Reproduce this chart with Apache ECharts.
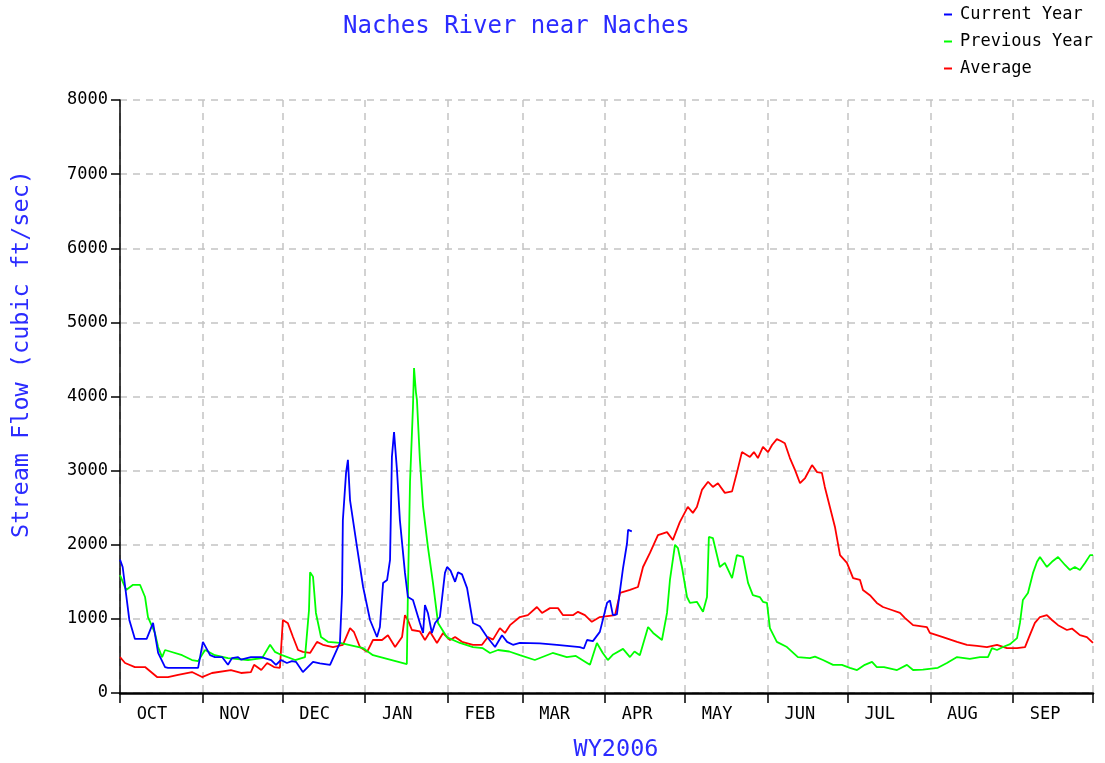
<!DOCTYPE html>
<html>
<head>
<meta charset="utf-8">
<script src="https://cdn.jsdelivr.net/npm/echarts@6/dist/echarts.min.js"></script>
<style>
  html, body { margin: 0; padding: 0; background: #fff; }
  #chart { width: 1105px; height: 763px; }
</style>
</head>
<body>
<div id="chart"></div>
<script>
// water year days: 0 = Oct 1, 365 = end of Sep 30
var monthNames = ['OCT','NOV','DEC','JAN','FEB','MAR','APR','MAY','JUN','JUL','AUG','SEP'];
var monthStarts = [0,31,61,92,123,151,182,212,243,273,304,335,365];
var flowTicks = [0,1000,2000,3000,4000,5000,6000,7000,8000];

// [day, cubic ft/sec]
var currentYear = [
  [0,1800],[1,1700],[3.5,985],[5.6,730],[10,730],[12.4,945],[14.3,540],[16.9,350],[18,340],
  [29.3,340],[31.1,690],[33.8,510],[35.6,485],[38.3,485],[40.5,380],[42,470],[44.3,485],
  [45.4,450],[49.1,485],[53,485],[56.7,445],[58.5,380],[60.4,445],[62.6,405],[64.5,430],
  [66,420],[68.6,283],[72.4,420],[75,400],[78.8,380],[82.5,675],[83.3,1350],[83.6,2330],
  [84.8,2970],[85.5,3145],[86.3,2600],[88.9,1970],[91.2,1430],[93.8,985],[96.4,755],
  [97.5,890],[98.7,1485],[100.2,1525],[101.3,1795],[102,3185],[102.8,3520],[103.9,3010],
  [105,2330],[106.9,1620],[108,1295],[109.9,1255],[112.5,945],[113.7,810],[114.4,1185],
  [115.5,1080],[117,810],[118.2,945],[120,1025],[121.9,1620],[122.7,1700],[124,1650],
  [125.7,1500],[126.8,1630],[128.3,1600],[130.2,1415],[132.4,945],[135,900],[137.7,755],
  [140.7,620],[143.3,780],[145.2,690],[147.4,650],[150,675],[157.5,670],[163.9,650],
  [172.5,620],[174,600],[175.2,715],[177.4,700],[180,825],[182.7,1215],[183.8,1250],
  [184.9,1050],[186.4,1060],[187.6,1390],[188.7,1685],[190.2,2020],[190.6,2200],[192,2180]
];

var previousYear = [
  [0,1590],[2.3,1390],[4.9,1460],[7.5,1460],[9.4,1295],[10.5,1025],[13.1,810],[14.3,620],
  [15.8,485],[16.9,580],[18.8,560],[23.3,510],[27,445],[29.3,430],[31.9,580],[33,560],
  [35.6,510],[40.5,470],[48,445],[53.3,470],[56.3,650],[58.1,555],[60.8,510],[65.7,445],
  [69.4,485],[70.9,1120],[71.3,1630],[72.4,1570],[73.5,1080],[75.4,755],[78,690],
  [82.5,675],[91.2,605],[94.9,510],[107.6,390],[108,1350],[108.8,2850],[109.9,3860],
  [110.3,4385],[111,4060],[111.4,3950],[112.5,3145],[113.7,2510],[115.5,1970],[117.4,1485],
  [119.3,945],[122.7,750],[127.5,675],[132.4,620],[136.1,605],[138.8,540],[141.8,580],
  [146,560],[150,510],[155.6,445],[162.3,540],[167.6,485],[171,500],[175.2,405],[176.3,380],
  [178.9,675],[181.1,540],[183,445],[185,520],[188.7,595],[191.3,485],[193,560],[195,510],
  [198.1,890],[200,810],[203.3,715],[205.2,1080],[206.3,1525],[208.2,2000],[209.3,1955],
  [210.8,1700],[212.7,1295],[213.8,1215],[216.4,1230],[218.7,1095],[220.2,1295],[220.9,2105],
  [222.4,2090],[225,1700],[226.9,1755],[229.6,1550],[231.4,1860],[233.7,1835],[235.6,1485],
  [237.4,1320],[240,1295],[241.2,1230],[242.7,1215],[243.8,875],[246.4,690],[250.2,620],
  [254.3,485],[258.8,470],[260.7,490],[263.7,445],[267.5,380],[270.8,380],[273.8,340],
  [276.5,310],[279.4,380],[282.1,420],[283.9,350],[286.6,350],[291.5,310],[295.2,380],
  [297.5,310],[301.2,315],[306.8,340],[310.2,405],[314,485],[318.8,460],[322.6,485],
  [325.6,485],[327.1,605],[329,580],[331.2,620],[333.9,660],[336.5,740],[337.6,945],
  [338.7,1255],[340.6,1350],[342.5,1620],[344,1770],[345.1,1835],[347.7,1700],[349.6,1770],
  [351.9,1835],[354.5,1727],[356.3,1660],[358.2,1700],[360.1,1660],[362,1755],[363.9,1860],
  [365,1860]
];

var average = [
  [0,485],[1.9,405],[5.6,350],[9.4,350],[13.9,215],[18,215],[21.8,245],[27,283],[30.8,215],
  [34.5,270],[41.6,310],[45.4,270],[49.1,283],[50.3,380],[53,310],[55.2,405],[57.8,350],
  [60,340],[61.1,985],[63,940],[64.9,755],[66.8,580],[68.6,555],[71.3,540],[73.9,690],
  [76.1,650],[79.9,620],[83.6,650],[86.3,875],[87.8,820],[90,620],[92.7,555],[94.9,715],
  [98.3,715],[100.5,780],[103.2,620],[105.8,755],[106.9,1050],[108,985],[109.5,850],
  [112.5,830],[114.4,715],[116.3,825],[118.9,675],[121.2,810],[121.9,780],[123.8,715],
  [125.7,755],[128.3,690],[132.4,650],[135.8,650],[138,755],[139.9,720],[142.5,875],
  [144.4,810],[146.3,915],[150,1025],[153,1050],[156.4,1160],[158.3,1080],[161.3,1145],
  [164.3,1145],[166.2,1050],[169.9,1050],[171.8,1095],[174.4,1050],[177,960],[180,1025],
  [185.7,1050],[187.6,1350],[191.3,1390],[194.3,1430],[196.2,1700],[198.8,1890],[201.8,2130],
  [205.2,2170],[207.4,2065],[210,2305],[213,2510],[214.9,2430],[216.4,2510],[218.3,2740],
  [220.6,2850],[222.4,2780],[224.3,2830],[226.9,2700],[229.6,2720],[231.4,2970],[233.3,3250],
  [236.3,3185],[237.8,3250],[239.3,3170],[241.2,3320],[243.1,3250],[244.6,3345],[246.4,3425],
  [247.9,3400],[249.4,3370],[251.3,3170],[253.2,3010],[255.1,2830],[257,2900],[259.6,3075],
  [261.5,2980],[263.3,2970],[264.4,2780],[266.3,2510],[268.2,2240],[270.1,1860],[272.7,1755],
  [275,1550],[277.6,1525],[278.7,1390],[281.3,1320],[283.9,1215],[286.2,1160],[289.5,1120],
  [292.6,1080],[294.5,1010],[297.5,915],[302.7,890],[303.8,810],[308.7,755],[314,690],
  [317.7,650],[321.5,635],[325.2,620],[329,650],[332.7,605],[336.5,605],[339.5,620],
  [341.3,780],[343.2,945],[345.1,1025],[347.7,1050],[349.6,985],[351.9,915],[355.2,850],
  [357.1,870],[360.1,780],[362.7,755],[365,675]
];

var mono = 'DejaVu Sans Mono';
// month names sit a little before mid-month in the original
var labelDays = monthStarts.slice(0, 12).map(function (s) { return s + 12; });

var chart = echarts.init(document.getElementById('chart'), null, { renderer: 'canvas' });

var option = {
  animation: false,
  backgroundColor: '#fff',
  title: {
    text: 'Naches River near Naches',
    left: 338,
    top: 10,
    textStyle: { fontFamily: mono, fontSize: 24, fontWeight: 'normal', color: '#2b2bff' }
  },
  legend: {
    orient: 'vertical',
    left: 944,
    top: 6,
    padding: 0,
    itemGap: 10,
    itemWidth: 8,
    itemHeight: 2,
    icon: 'rect',
    textStyle: { fontFamily: mono, fontSize: 17, color: '#000', lineHeight: 17, padding: [0, 0, 0, 3] },
    data: ['Current Year', 'Previous Year', 'Average']
  },
  grid: { left: 120, right: 12, top: 100, bottom: 70, outerBoundsMode: 'none' },
  xAxis: {
    type: 'value',
    min: 0,
    max: 365,
    axisLine: { lineStyle: { color: '#000', width: 2.5 } },
    axisTick: { customValues: monthStarts, length: 10, lineStyle: { color: '#000', width: 1.5 } },
    axisLabel: {
      customValues: labelDays,
      margin: 13,
      fontFamily: mono,
      fontSize: 17,
      color: '#000',
      formatter: function (v) {
        return monthNames[labelDays.indexOf(v)];
      }
    },
    splitLine: { show: true, lineStyle: { color: '#c4c4c4', type: [7, 6], width: 1.5 } }
  },
  yAxis: {
    type: 'value',
    min: 0,
    max: 8000,
    interval: 1000,
    axisLine: { show: true, lineStyle: { color: '#000', width: 1.5 } },
    axisTick: { show: true, length: 9, lineStyle: { color: '#000', width: 1.5 } },
    axisLabel: {
      margin: 12,
      fontFamily: mono,
      fontSize: 17,
      color: '#000',
      customValues: flowTicks,
      formatter: function (v) { return String(v); }
    },
    splitLine: { show: true, lineStyle: { color: '#c4c4c4', type: [7, 6], width: 1.5 } }
  },
  graphic: [
    {
      type: 'text',
      x: 22,
      y: 354,
      rotation: Math.PI / 2,
      style: {
        text: 'Stream Flow (cubic ft/sec)',
        fontFamily: mono,
        fontSize: 23.5,
        fill: '#2b2bff',
        align: 'center',
        verticalAlign: 'middle'
      }
    },
    {
      type: 'text',
      x: 616,
      y: 750,
      style: {
        text: 'WY2006',
        fontFamily: mono,
        fontSize: 23.5,
        fill: '#2b2bff',
        align: 'center',
        verticalAlign: 'middle'
      }
    }
  ],
  series: [
    {
      name: 'Current Year',
      type: 'line',
      data: currentYear,
      symbol: 'none',
      color: '#0000ff',
      lineStyle: { width: 1.8 },
      z: 4
    },
    {
      name: 'Previous Year',
      type: 'line',
      data: previousYear,
      symbol: 'none',
      color: '#00ff00',
      lineStyle: { width: 1.8 },
      z: 3
    },
    {
      name: 'Average',
      type: 'line',
      data: average,
      symbol: 'none',
      color: '#ff0000',
      lineStyle: { width: 1.8 },
      z: 2
    }
  ]
};

chart.setOption(option);
window.addEventListener('resize', chart.resize);
</script>
</body>
</html>
